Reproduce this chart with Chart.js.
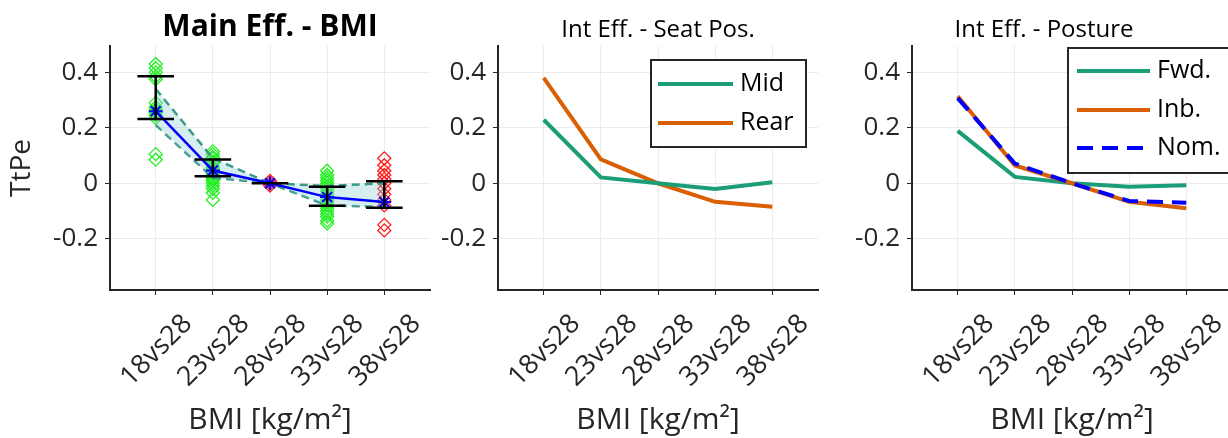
<!DOCTYPE html>
<html>
<head>
<meta charset="utf-8">
<title>BMI effects</title>
<script src="https://cdn.jsdelivr.net/npm/chart.js@4.4.1/dist/chart.umd.min.js"></script>
<style>
  html, body { margin: 0; padding: 0; background: #fff; width: 1228px; height: 438px; overflow: hidden; }
  canvas { position: absolute; top: 0; }
  #mainChart { left: 0; }
  #seatChart { left: 440px; }
  #postureChart { left: 828px; }
</style>
</head>
<body>
<canvas id="mainChart" width="440" height="438"></canvas>
<canvas id="seatChart" width="388" height="438"></canvas>
<canvas id="postureChart" width="414" height="438"></canvas>
<script>
// categories (x positions 1..5)
const bmiLabels = ['18vs28', '23vs28', '28vs28', '33vs28', '38vs28'];
const bmiPos = [1, 2, 3, 4, 5];
const yTicks = [-0.2, 0, 0.2, 0.4];

// main effect - mean, error bars and spread band
const mainMean = [0.26, 0.046, 0, -0.05, -0.068];
const errHigh = [0.386, 0.086, 0, -0.013, 0.007];
const errLow = [0.232, 0.025, 0, -0.081, -0.088];
const bandUpper = [0.34, 0.09, 0, -0.01, 0.0];
const bandLower = [0.21, 0.02, 0, -0.08, -0.085];

// individual effects per category
const pts18 = [0.43, 0.415, 0.40, 0.385, 0.375, 0.29, 0.275, 0.265, 0.255, 0.245, 0.235, 0.105, 0.085];
const pts23 = [0.115, 0.105, 0.095, 0.09, 0.08, 0.075, 0.07, 0.06, 0.055, 0.05, 0.045, 0.04, 0.035, 0.03, 0.02, 0.015, 0.01, 0.0, -0.01, -0.02, -0.035, -0.06];
const pts28 = [0.008, 0, -0.008];
const pts33 = [0.045, 0.03, 0.02, 0.01, 0.0, -0.01, -0.02, -0.03, -0.04, -0.05, -0.06, -0.07, -0.08, -0.09, -0.1, -0.11, -0.12, -0.135, -0.145];
const pts38 = [0.09, 0.065, 0.045, 0.03, 0.015, 0.0, -0.02, -0.04, -0.06, -0.08, -0.15, -0.17];

// interaction - seat position
const seatMid = [0.229, 0.021, 0, -0.021, 0.004];
const seatRear = [0.38, 0.086, 0, -0.067, -0.085];

// interaction - posture
const postFwd = [0.189, 0.023, 0, -0.013, -0.007];
const postInb = [0.314, 0.064, 0, -0.067, -0.09];
const postNom = [0.307, 0.071, 0, -0.064, -0.07];

const GREEN = '#1b9e77';
const ORANGE = '#d95f02';
const BLUE = '#0000ff';
const capHalf = 0.32;

Chart.defaults.font.family = "'Open Sans', sans-serif";
Chart.defaults.color = '#262626';
Chart.defaults.animation = false;

function toXY(values) {
  return values.map((v, i) => ({ x: bmiPos[i], y: v }));
}

function column(pos, values) {
  return values.map(v => ({ x: pos, y: v }));
}

// error bars as one broken line: top cap, stem, bottom cap
function errorBarPoints() {
  const out = [];
  bmiPos.forEach((x, i) => {
    out.push({ x: x - capHalf, y: errHigh[i] }, { x: x + capHalf, y: errHigh[i] }, { x: x, y: null });
    out.push({ x: x, y: errHigh[i] }, { x: x, y: errLow[i] }, { x: x, y: null });
    out.push({ x: x - capHalf, y: errLow[i] }, { x: x + capHalf, y: errLow[i] }, { x: x, y: null });
  });
  return out;
}

// titles + boxed legend
const panelText = {
  id: 'panelText',
  afterDraw(chart, args, opts) {
    const ctx = chart.ctx;
    const a = chart.chartArea;
    ctx.save();
    ctx.fillStyle = '#000';
    ctx.textAlign = 'center';
    ctx.textBaseline = 'middle';
    ctx.font = opts.titleFont;
    ctx.fillText(opts.title, (a.left + a.right) / 2 + (opts.titleDx || 0), opts.titleY);

    if (opts.legend) {
      const lg = opts.legend;
      ctx.fillStyle = '#fff';
      ctx.fillRect(lg.box[0], lg.box[1], lg.box[2], lg.box[3]);
      ctx.strokeStyle = '#262626';
      ctx.lineWidth = 2;
      ctx.strokeRect(lg.box[0], lg.box[1], lg.box[2], lg.box[3]);
      ctx.font = '25px "Open Sans", sans-serif';
      ctx.textAlign = 'left';
      lg.items.forEach((dsIndex, k) => {
        const ds = chart.data.datasets[dsIndex];
        const y = lg.rowY[k];
        ctx.strokeStyle = ds.borderColor;
        ctx.lineWidth = ds.borderWidth;
        ctx.setLineDash(ds.borderDash || []);
        ctx.beginPath();
        ctx.moveTo(lg.lineX[0], y);
        ctx.lineTo(lg.lineX[1], y);
        ctx.stroke();
        ctx.setLineDash([]);
        ctx.fillStyle = '#000';
        ctx.fillText(ds.label, lg.textX, y);
      });
    }
    ctx.restore();
  }
};

function axes(yWidth, showYTitle) {
  return {
    x: {
      type: 'linear',
      min: 0.2,
      max: 5.8,
      afterBuildTicks: s => { s.ticks = bmiPos.map(v => ({ value: v })); },
      afterFit: s => { s.height = 148; },
      ticks: {
        callback: v => bmiLabels[bmiPos.indexOf(v)],
        minRotation: 45,
        maxRotation: 45,
        labelOffset: 32,
        padding: 13,
        font: { size: 27 },
        color: '#262626'
      },
      grid: { color: '#ebebeb', tickColor: '#262626', tickLength: 5, lineWidth: 1 },
      border: { color: '#262626', width: 2 },
      title: { display: true, text: 'BMI [kg/m²]', font: { size: 30 }, color: '#262626', padding: { top: 0, bottom: 0 } }
    },
    y: {
      min: -0.385,
      max: 0.495,
      afterBuildTicks: s => { s.ticks = yTicks.map(v => ({ value: v })); },
      afterFit: s => { s.width = yWidth; },
      ticks: { font: { size: 26 }, padding: 7, color: '#262626', callback: v => String(v) },
      grid: { color: '#ebebeb', tickColor: '#262626', tickLength: 5, lineWidth: 1 },
      border: { color: '#262626', width: 2 },
      title: { display: showYTitle, text: 'TtPe', font: { size: 28 }, color: '#262626', padding: { top: 5, bottom: 0 } }
    }
  };
}

function baseOptions(yWidth, showYTitle, textOpts) {
  return {
    responsive: false,
    animation: false,
    layout: { padding: { top: 46, right: 10, bottom: 0, left: 0 } },
    scales: axes(yWidth, showYTitle),
    plugins: {
      legend: { display: false },
      tooltip: { enabled: false },
      panelText: textOpts
    }
  };
}

// --- main effect panel ---
new Chart(document.getElementById('mainChart'), {
  type: 'scatter',
  data: {
    datasets: [
      {
        label: 'CI',
        data: errorBarPoints(),
        showLine: true,
        spanGaps: false,
        borderColor: '#000',
        borderWidth: 2.5,
        pointRadius: 0,
        order: 1
      },
      {
        label: 'Mean',
        data: toXY(mainMean),
        showLine: true,
        borderColor: BLUE,
        borderWidth: 2.5,
        pointStyle: 'star',
        pointRadius: 7,
        pointBorderColor: BLUE,
        pointBorderWidth: 2,
        order: 2
      },
      {
        label: 'Upper',
        data: toXY(bandUpper),
        showLine: true,
        borderColor: '#3a9a88',
        borderDash: [8, 5],
        borderWidth: 2.5,
        pointRadius: 0,
        fill: '+1',
        backgroundColor: 'rgba(140, 205, 212, 0.35)',
        order: 3
      },
      {
        label: 'Lower',
        data: toXY(bandLower),
        showLine: true,
        borderColor: '#3a9a88',
        borderDash: [8, 5],
        borderWidth: 2.5,
        pointRadius: 0,
        fill: false,
        order: 3
      },
      {
        label: 'Ind. green',
        data: [...column(1, pts18), ...column(2, pts23), ...column(4, pts33)],
        showLine: false,
        pointStyle: 'rectRot',
        pointRadius: 6.5,
        pointBorderColor: '#22ee22',
        pointBackgroundColor: 'rgba(0,0,0,0)',
        pointBorderWidth: 1.3,
        order: 5
      },
      {
        label: 'Ind. red',
        data: [...column(3, pts28), ...column(5, pts38)],
        showLine: false,
        pointStyle: 'rectRot',
        pointRadius: 6.5,
        pointBorderColor: '#ff1a1a',
        pointBackgroundColor: 'rgba(0,0,0,0)',
        pointBorderWidth: 1.3,
        order: 5
      }
    ]
  },
  options: baseOptions(110, true, {
    title: 'Main Eff. - BMI',
    titleFont: 'bold 30px "Open Sans", sans-serif',
    titleY: 27
  }),
  plugins: [panelText]
});

// --- seat position panel ---
new Chart(document.getElementById('seatChart'), {
  type: 'scatter',
  data: {
    datasets: [
      { label: 'Mid', data: toXY(seatMid), showLine: true, borderColor: GREEN, borderWidth: 4, pointRadius: 0 },
      { label: 'Rear', data: toXY(seatRear), showLine: true, borderColor: ORANGE, borderWidth: 4, pointRadius: 0 }
    ]
  },
  options: baseOptions(58, false, {
    title: 'Int Eff. - Seat Pos.',
    titleFont: '24px "Open Sans", sans-serif',
    titleY: 30,
    legend: { box: [211, 60, 155, 87], lineX: [218, 293], textX: 300, rowY: [84, 123], items: [0, 1] }
  }),
  plugins: [panelText]
});

// --- posture panel ---
new Chart(document.getElementById('postureChart'), {
  type: 'scatter',
  data: {
    datasets: [
      { label: 'Nom.', data: toXY(postNom), showLine: true, borderColor: BLUE, borderDash: [16, 9], borderWidth: 4, pointRadius: 0, order: 1 },
      { label: 'Inb.', data: toXY(postInb), showLine: true, borderColor: ORANGE, borderWidth: 4, pointRadius: 0, order: 2 },
      { label: 'Fwd.', data: toXY(postFwd), showLine: true, borderColor: GREEN, borderWidth: 4, pointRadius: 0, order: 3 }
    ]
  },
  options: baseOptions(84, false, {
    title: 'Int Eff. - Posture',
    titleFont: '24px "Open Sans", sans-serif',
    titleY: 30,
    titleDx: -28,
    legend: { box: [240, 48, 190, 125], lineX: [249, 322], textX: 329, rowY: [71, 110, 148], items: [2, 1, 0] }
  }),
  plugins: [panelText]
});
</script>
</body>
</html>
